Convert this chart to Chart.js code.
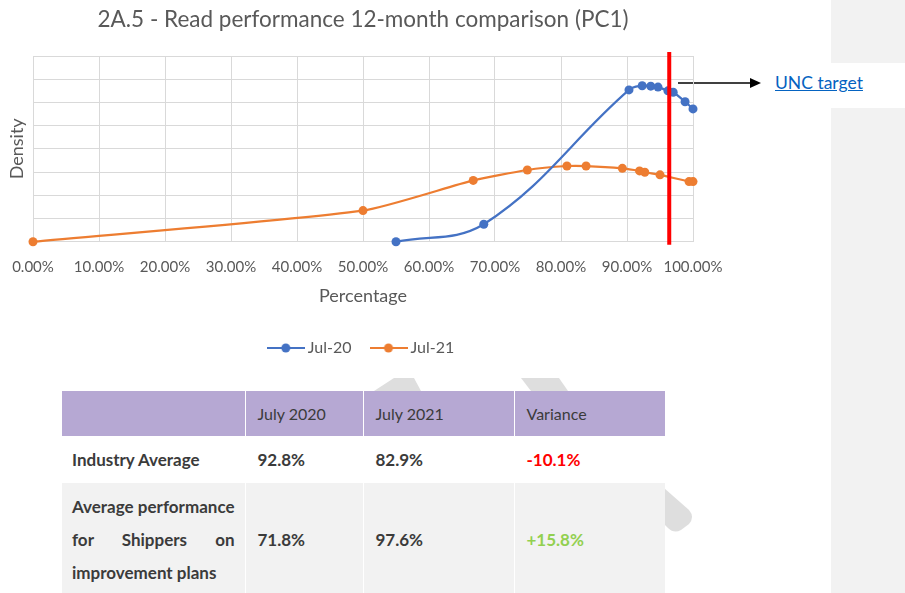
<!DOCTYPE html>
<html>
<head>
<meta charset="utf-8">
<script src="https://cdn.jsdelivr.net/npm/chart.js@4.4.0/dist/chart.umd.min.js"></script>
<style>
	html, body { margin: 0; padding: 0; background: #fff; }
	body { width: 905px; height: 593px; position: relative; overflow: hidden; font-family: Lato, sans-serif; }
	.side { position: absolute; left: 831px; width: 74px; background: #f2f2f2; }
	#deco { position: absolute; left: 0; top: 0; }
	#chart-wrap { position: absolute; left: 0; top: 0; width: 740px; height: 366px; }
	#unc { position: absolute; left: 775px; top: 72px; font-size: 17.5px; color: #0563c1; text-decoration: underline; }
	table { position: absolute; left: 62px; top: 391px; width: 603px; border-collapse: collapse; table-layout: fixed; font-size: 16px; color: #3b3b3b; }
	td { padding: 0 12px; border-left: 1px solid #fff; vertical-align: middle; }
	td:first-child { padding: 0 10px; border-left: none; }
	tr.head td { background: #b6a8d3; height: 45px; }
	tr.avg td { height: 47px; font-weight: bold; font-size: 17px; }
	tr.plans td { background: #f2f2f2; height: 112px; font-weight: bold; font-size: 17px; }
	.plans .line { line-height: 33px; white-space: nowrap; }
	.plans .just { text-align: justify; text-align-last: justify; }
	.neg { color: #ff0000; }
	.pos { color: #92d050; }
</style>
</head>
<body>
<div class="side" style="top:0;height:63px"></div>
<div class="side" style="top:108px;height:485px"></div>

<svg id="deco" width="905" height="593">
	<polygon points="374,391 394,378 414,378 421,391" fill="#dedede"/>
	<polygon points="521,378 559,378 568,391 531,391" fill="#dedede"/>
	<path d="M664,488 L689,510 Q695,517 689,524 L681,530 Q674,534 668,528 L664,524 Z" fill="#dedede"/>
	<line x1="678" y1="83" x2="752" y2="83" stroke="#000" stroke-width="1.5"/>
	<polygon points="750,78 761,83 750,88" fill="#000"/>
</svg>

<div id="chart-wrap"><canvas id="pc1-chart"></canvas></div>
<a id="unc">UNC target</a>

<table>
	<colgroup><col style="width:183px"><col style="width:118px"><col style="width:151px"><col style="width:151px"></colgroup>
	<tr class="head"><td></td><td>July 2020</td><td>July 2021</td><td>Variance</td></tr>
	<tr class="avg"><td>Industry Average</td><td>92.8%</td><td>82.9%</td><td class="neg">-10.1%</td></tr>
	<tr class="plans">
		<td>
			<div class="line just">Average performance</div>
			<div class="line just">for Shippers on</div>
			<div class="line">improvement plans</div>
		</td>
		<td>71.8%</td><td>97.6%</td><td class="pos">+15.8%</td>
	</tr>
</table>

<script>
	// x = percentage, y = density (grid units)
	var jul20X = [55, 68.3, 90.3, 92.3, 93.6, 94.7, 96.2, 97.0, 98.8, 100];
	var jul20Y = [0, 0.75, 6.54, 6.72, 6.70, 6.66, 6.50, 6.44, 6.03, 5.72];

	var jul21X = [0, 50, 66.7, 74.9, 80.9, 83.8, 89.3, 91.9, 92.7, 95, 99.4, 100];
	var jul21Y = [0, 1.34, 2.64, 3.09, 3.26, 3.26, 3.16, 3.05, 2.99, 2.88, 2.59, 2.59];

	var seriesLabels = ['Jul-20', 'Jul-21'];
	var uncTarget = 96.4;

	var BLUE = '#4472c4';
	var ORANGE = '#ed7d31';
	var GREY_TEXT = '#595959';
	var GRID = '#d9d9d9';
	var FONT = 'Lato, sans-serif';

	function toPoints(xs, ys) {
		return xs.map(function(x, i) { return { x: x, y: ys[i] }; });
	}

	// Excel-style legend marker: short line with a dot
	function legendIcon(color) {
		var c = document.createElement('canvas');
		c.width = 38;
		c.height = 12;
		var g = c.getContext('2d');
		g.strokeStyle = color;
		g.lineWidth = 2;
		g.beginPath();
		g.moveTo(0, 6);
		g.lineTo(38, 6);
		g.stroke();
		g.fillStyle = color;
		g.beginPath();
		g.arc(19, 6, 4.5, 0, Math.PI * 2);
		g.fill();
		return c;
	}

	var targetLine = {
		id: 'targetLine',
		afterDatasetsDraw: function(chart) {
			var x = chart.scales.x.getPixelForValue(uncTarget);
			var area = chart.chartArea;
			var ctx = chart.ctx;
			ctx.save();
			ctx.strokeStyle = '#ff0000';
			ctx.lineWidth = 4;
			ctx.beginPath();
			ctx.moveTo(x, area.top - 4);
			ctx.lineTo(x, area.bottom + 3);
			ctx.stroke();
			ctx.restore();
		}
	};

	function dataset(label, xs, ys, color, tension) {
		return {
			label: label,
			data: toPoints(xs, ys),
			borderColor: color,
			backgroundColor: color,
			borderWidth: 2.2,
			pointRadius: 4.5,
			pointBorderWidth: 0,
			pointBackgroundColor: color,
			tension: tension,
			fill: false,
			clip: false
		};
	}

	new Chart(document.getElementById('pc1-chart'), {
		type: 'line',
		data: {
			datasets: [
				dataset(seriesLabels[0], jul20X, jul20Y, BLUE, 0.4),
				dataset(seriesLabels[1], jul21X, jul21Y, ORANGE, 0.2)
			]
		},
		plugins: [targetLine],
		options: {
			responsive: true,
			maintainAspectRatio: false,
			animation: false,
			layout: { padding: { left: 0, right: 47, top: 0, bottom: 0 } },
			plugins: {
				title: {
					display: true,
					fullSize: false,
					text: '2A.5 - Read performance 12-month comparison (PC1)',
					color: GREY_TEXT,
					font: { family: FONT, size: 22.5, weight: '400', lineHeight: 1.2 },
					padding: { top: 6.5, bottom: 22.5 }
				},
				legend: {
					position: 'bottom',
					fullSize: false,
					labels: {
						color: GREY_TEXT,
						font: { family: FONT, size: 16 },
						usePointStyle: true,
						pointStyleWidth: 28,
						padding: 23,
						generateLabels: function(chart) {
							return chart.data.datasets.map(function(ds, i) {
								return {
									text: ds.label,
									pointStyle: legendIcon(ds.borderColor),
									fontColor: GREY_TEXT,
									lineWidth: 0,
									datasetIndex: i
								};
							});
						}
					}
				},
				tooltip: { enabled: false }
			},
			scales: {
				x: {
					type: 'linear',
					min: 0,
					max: 100,
					afterFit: function(scale) { scale.height = 75.3; },
					// invisible tick marks push the labels down without widening the side padding
					grid: { color: GRID, drawTicks: true, tickLength: 14, tickColor: 'rgba(0,0,0,0)' },
					border: { color: GRID },
					ticks: {
						stepSize: 10,
						padding: 2,
						color: GREY_TEXT,
						font: { family: FONT, size: 15 },
						maxRotation: 0,
						callback: function(v) { return v.toFixed(2) + '%'; }
					},
					title: {
						display: true,
						text: 'Percentage',
						color: GREY_TEXT,
						font: { family: FONT, size: 18, lineHeight: 1.2 },
						padding: { top: 0, bottom: 10.2 }
					}
				},
				y: {
					min: 0,
					max: 8,
					afterFit: function(scale) { scale.width = 33; },
					grid: { color: GRID, drawTicks: false },
					border: { display: false },
					ticks: { display: false, stepSize: 1 },
					title: {
						display: true,
						text: 'Density',
						color: GREY_TEXT,
						font: { family: FONT, size: 18, lineHeight: 1.2 },
						padding: { top: 6.2, bottom: 0 }
					}
				}
			}
		}
	});
</script>
</body>
</html>
